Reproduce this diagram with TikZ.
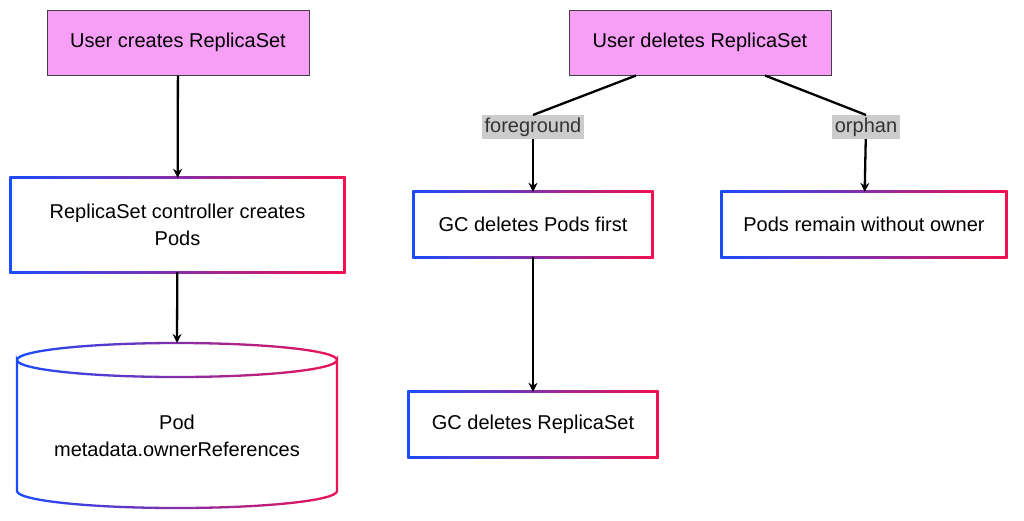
\documentclass[tikz,border=0pt]{standalone}
\usepackage{fontspec}
\setmainfont{Liberation Sans}
\usetikzlibrary{shapes.geometric, arrows, arrows.meta}
\pgfdeclarelayer{background}
\pgfsetlayers{background,main}
\definecolor{gblue}{HTML}{1A4BFF}
\definecolor{gred}{HTML}{F2104F}
\definecolor{uviolet}{HTML}{F79EF7}
\definecolor{lblgray}{HTML}{CCCCCC}

\begin{document}
\begin{tikzpicture}[x=1pt,y=-1pt,font=\fontsize{20}{27}\selectfont]
        \tikzstyle{user} = [rectangle, minimum width=262pt, minimum height=65pt, text centered, fill=uviolet, draw=black!75, line width=1pt]
        \tikzstyle{proc} = [rectangle, minimum height=65pt, text centered, align=center]
        \tikzstyle{lbl} = [rectangle, fill=lblgray, inner sep=2.5pt, text=black!80]
        \tikzstyle{arrow} = [line width=2.3pt,-{Stealth[length=9pt,width=9pt]}]
        \tikzstyle{line} = [line width=2.3pt]
        \useasboundingbox (0,0) rectangle (1024,520);
        % top row
        \node [user] (uc) at (178, 42.5) {User creates ReplicaSet};
        \node [user] (ud) at (700, 42.5) {User deletes ReplicaSet};
        % processes
        \node [proc, minimum width=333pt, minimum height=94pt] (rc) at (177.5, 225) {ReplicaSet controller creates\\Pods};
        \node [proc, minimum width=238pt] (gp) at (533, 224.5) {GC deletes Pods first};
        \node [proc, minimum width=284pt] (po) at (864, 224.5) {Pods remain without owner};
        \node [proc, minimum width=248pt] (gr) at (533, 424.5) {GC deletes ReplicaSet};
        \node [align=center] (pod) at (177, 436) {Pod\\metadata.ownerReferences};
        \coordinate (cyltop) at (177, 343);
        % gradient borders
        \begin{pgfonlayer}{background}
        \foreach \n in {rc, gp, po, gr} {
            \shade[left color=gblue, right color=gred] ([shift={(-1.5pt,-1.5pt)}]\n.south west) rectangle ([shift={(1.5pt,1.5pt)}]\n.north east);
            \fill[white] ([shift={(1pt,1pt)}]\n.south west) rectangle ([shift={(-1pt,-1pt)}]\n.north east);
        }
        \end{pgfonlayer}
        % cylinder, drawn in strips
        \foreach \i [evaluate=\i as \pc using 100-\i*2.5] in {0,...,39} {
            \begin{scope}
                \clip (14+\i*8.2, 330) rectangle (14+\i*8.2+8.4, 512);
                \draw[gblue!\pc!gred, line width=2.3pt] (17, 360) arc[start angle=180, end angle=360, x radius=160, y radius=17]
                    (17, 360) arc[start angle=180, end angle=0, x radius=160, y radius=17]
                    -- (337, 491) arc[start angle=0, end angle=180, x radius=160, y radius=17] -- cycle;
            \end{scope}
        }
        % labels
        \node [lbl] (fg) at (533, 127) {foreground};
        \node [lbl] (or) at (866, 127) {orphan};
        % connectors
        \draw[arrow] (uc) to (rc);
        \draw[arrow] (rc) to (cyltop);
        \draw[line] ([xshift=-64pt]ud.south) to (fg.north);
        \draw[arrow] (fg) to (gp);
        \draw[line] ([xshift=65pt]ud.south) to (or.north);
        \draw[arrow] (or) to (po);
        \draw[arrow] (gp) to (gr);
\end{tikzpicture}
\end{document}
